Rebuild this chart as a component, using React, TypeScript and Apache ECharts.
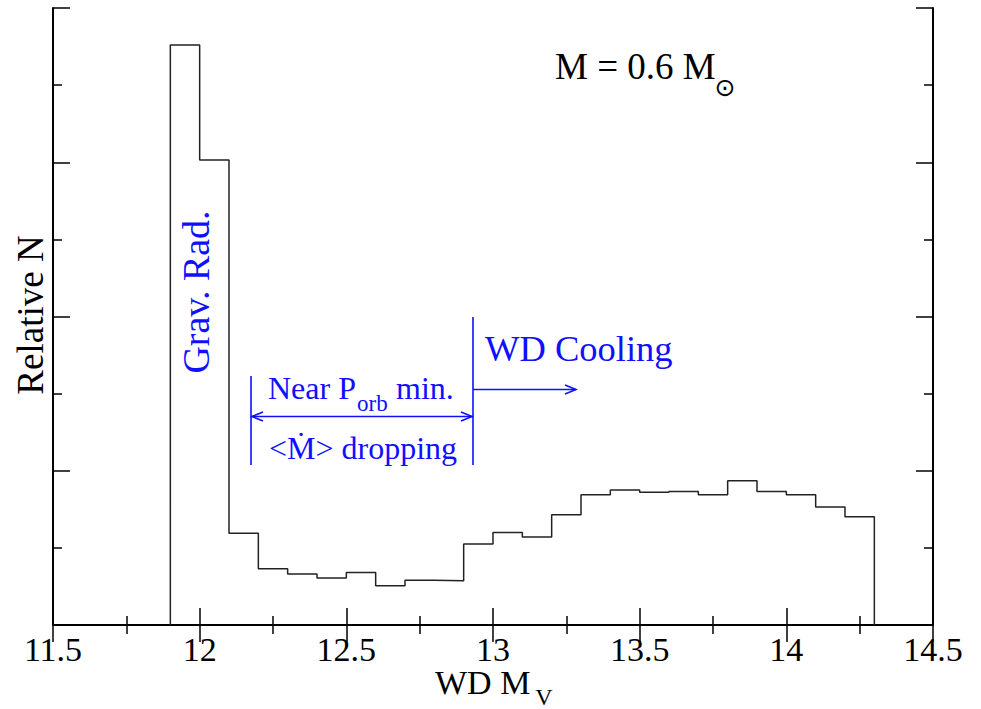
import React, { useEffect, useRef } from "react";
import * as echarts from "echarts";

// Histogram: bins of width 0.1 in WD M_V, starting at 11.9
const binStart = 11.9;
const binWidth = 0.1;
const counts = [
  7.52, 6.03, 1.19, 0.73, 0.66, 0.61, 0.68, 0.51, 0.58, 0.575,
  1.05, 1.2, 1.14, 1.43, 1.69, 1.75, 1.72, 1.73, 1.69, 1.87,
  1.73, 1.69, 1.53, 1.405,
];
const xTicks = [11.5, 12, 12.5, 13, 13.5, 14, 14.5];

const FONT = "Liberation Serif";
const BLUE = "#1010ff";

function txt(text: string, x: number, y: number, size: number, fill: string, extra: any = {}) {
  return {
    type: "text",
    x,
    y,
    rotation: extra.rotation || 0,
    style: {
      text,
      fontFamily: extra.family || FONT,
      fontSize: size,
      fill,
      align: extra.align || "left",
      verticalAlign: "middle",
    },
  };
}

export default function App() {
  const ref = useRef<HTMLDivElement>(null);
  useEffect(() => {
    if (!ref.current) return;
    const chart = echarts.init(ref.current, undefined, { renderer: "svg" });

    const pts: number[][] = [];
    const r = (v: number) => Math.round(v * 1000) / 1000;
    pts.push([binStart, 0]);
    counts.forEach((c, i) => pts.push([r(binStart + i * binWidth), c]));
    const end = r(binStart + counts.length * binWidth);
    pts.push([end, counts[counts.length - 1]]);
    pts.push([end, 0]);

    const axisCommon = {
      type: "value" as const,
      axisLine: { show: true, lineStyle: { color: "#000", width: 2 } },
      axisTick: { show: true, inside: true, length: 17, lineStyle: { color: "#000", width: 1.5 } },
      minorTick: { show: true, splitNumber: 2, length: 9, lineStyle: { color: "#000", width: 1.5 } },
      splitLine: { show: false },
      minorSplitLine: { show: false },
    };

    const blueLine = { stroke: BLUE, lineWidth: 1.6 };

    chart.setOption({
      animation: false,
      backgroundColor: "#fff",
      textStyle: { fontFamily: FONT },
      grid: { left: 53, right: 48, top: 8, bottom: 84, containLabel: false },
      xAxis: [
        {
          ...axisCommon,
          min: 11.5,
          max: 14.5,
          interval: 0.5,
          position: "bottom",
          axisLabel: {
            show: true,
            margin: 7,
            fontFamily: FONT,
            fontSize: 34,
            color: "#000",
            formatter: (v: number) => (xTicks.includes(v) ? String(v) : ""),
          },
        },
        {
          ...axisCommon,
          min: 11.5,
          max: 14.5,
          interval: 0.5,
          position: "top",
          axisLabel: { show: false },
        },
      ],
      yAxis: [
        { ...axisCommon, min: 0, max: 8, interval: 2, position: "left", axisLabel: { show: false } },
        { ...axisCommon, min: 0, max: 8, interval: 2, position: "right", axisLabel: { show: false } },
      ],
      series: [
        {
          type: "line",
          step: "end",
          data: pts,
          symbol: "none",
          lineStyle: { color: "#222", width: 1.5 },
          xAxisIndex: 0,
          yAxisIndex: 0,
        },
      ],
      graphic: [
        // axis titles
        txt("Relative N", 30, 315, 37, "#000", { rotation: Math.PI / 2, align: "center" }),
        txt("WD M", 435, 682, 34, "#000"),
        txt("V", 544, 697, 24, "#000", { align: "center" }),
        // mass label
        txt("M = 0.6 M", 555, 66, 37, "#000"),
        txt("⊙", 725, 87.5, 25, "#000", { align: "center", family: "DejaVu Sans" }),
        // Grav. Rad.
        txt("Grav. Rad.", 196, 292, 38, BLUE, { rotation: Math.PI / 2, align: "center" }),
        // WD Cooling
        txt("WD Cooling", 485, 348, 36.5, BLUE),
        // Near P_orb min.
        txt("Near P", 268, 388, 32, BLUE),
        txt("orb", 357, 403, 23, BLUE),
        txt("min.", 396, 388, 32, BLUE),
        // <Mdot> dropping
        txt("<Ṁ> dropping", 269, 448, 32, BLUE),
        // vertical markers
        { type: "line", shape: { x1: 251, y1: 376, x2: 251, y2: 465 }, style: blueLine },
        { type: "line", shape: { x1: 473, y1: 317, x2: 473, y2: 465 }, style: blueLine },
        // double arrow
        { type: "line", shape: { x1: 251, y1: 416.5, x2: 473, y2: 416.5 }, style: blueLine },
        { type: "polyline", shape: { points: [[263, 412], [252, 416.5], [263, 421]] }, style: { ...blueLine, fill: null } },
        { type: "polyline", shape: { points: [[461, 412], [472, 416.5], [461, 421]] }, style: { ...blueLine, fill: null } },
        // right arrow
        { type: "line", shape: { x1: 473, y1: 389.5, x2: 576, y2: 389.5 }, style: blueLine },
        { type: "polyline", shape: { points: [[565, 385], [576, 389.5], [565, 394]] }, style: { ...blueLine, fill: null } },
      ],
    });
    return () => chart.dispose();
  }, []);

  return (
    <div
      ref={ref}
      style={{ position: "fixed", left: 0, top: 0, width: 981, height: 709, background: "#fff" }}
    />
  );
}
